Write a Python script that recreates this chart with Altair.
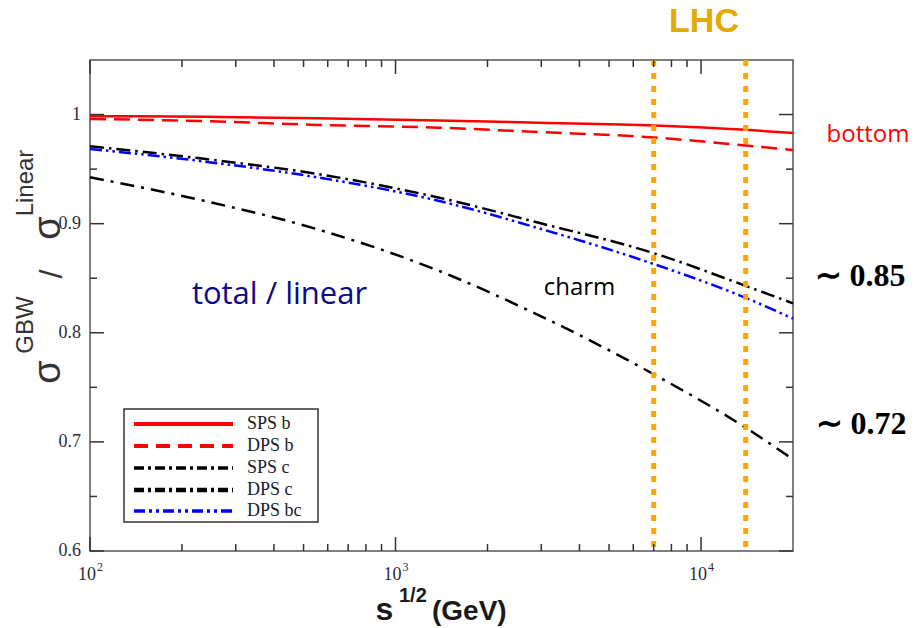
import altair as alt
import pandas as pd

# ---------------- data ----------------
energy = [100, 236, 553, 1380, 2925, 7000, 14000, 20000]
sps_b = [0.9985, 0.998, 0.9965, 0.9945, 0.9925, 0.990, 0.986, 0.983]
dps_b = [0.996, 0.994, 0.9905, 0.988, 0.984, 0.979, 0.9716, 0.9676]
sps_c = [0.971, 0.9594, 0.9456, 0.924, 0.901, 0.873, 0.843, 0.827]
dps_c = [0.9425, 0.921, 0.895, 0.857, 0.8165, 0.762, 0.713, 0.684]
dps_bc = [0.9685, 0.957, 0.9425, 0.921, 0.896, 0.863, 0.832, 0.813]

series_names = ["SPS b", "DPS b", "SPS c", "DPS c", "DPS bc"]
series_vals = [sps_b, dps_b, sps_c, dps_c, dps_bc]

lhc_energies = [7000, 14000]

y_major = [0.6, 0.7, 0.8, 0.9, 1.0]
y_major_labels = ["0.6", "0.7", "0.8", "0.9", "1"]
y_minor = [0.65, 0.75, 0.85, 0.95]
x_major = [100, 1000, 10000]
x_major_exp = ["2", "3", "4"]
x_minor = [200, 300, 400, 500, 600, 700, 800, 900,
           2000, 3000, 4000, 5000, 6000, 7000, 8000, 9000]

# ---------------- styles ----------------
styles = {
    "SPS b": dict(color="#FF0000", strokeWidth=2.5),
    "DPS b": dict(color="#FF0000", strokeWidth=2.5, strokeDash=[16, 8]),
    "SPS c": dict(color="#000000", strokeWidth=2.5, strokeDash=[14, 5, 2.5, 5]),
    "DPS c": dict(color="#000000", strokeWidth=2.5, strokeDash=[14, 7, 3, 7]),
    "DPS bc": dict(color="#0000FF", strokeWidth=2.5, strokeDash=[12, 4, 2.5, 4, 2.5, 4]),
}
legend_styles = {
    "SPS b": dict(color="#FF0000", strokeWidth=4),
    "DPS b": dict(color="#FF0000", strokeWidth=4, strokeDash=[14, 8]),
    "SPS c": dict(color="#000000", strokeWidth=3.5, strokeDash=[10, 4, 3, 4]),
    "DPS c": dict(color="#000000", strokeWidth=4.5, strokeDash=[10, 4, 3, 4]),
    "DPS bc": dict(color="#0000FF", strokeWidth=3.5, strokeDash=[11, 4, 3, 4, 3, 4]),
}

W, H = 703, 491
rows = []
for name, vals in zip(series_names, series_vals):
    for e, v in zip(energy, vals):
        rows.append({"series": name, "E": e, "R": v})
df = pd.DataFrame(rows)

xs = alt.Scale(type="log", domain=[100, 20000], nice=False)
ys = alt.Scale(domain=[0.6, 1.05], zero=False, nice=False)

one = pd.DataFrame({"a": [0]})


def X(field="E"):
    return alt.X(f"{field}:Q", scale=xs, axis=None)


def Y(field="R"):
    return alt.Y(f"{field}:Q", scale=ys, axis=None)


layers = []

# curves
for name in series_names:
    layers.append(
        alt.Chart(df)
        .transform_filter(alt.datum.series == name)
        .mark_line(interpolate="monotone", **styles[name])
        .encode(x=X(), y=Y())
    )

# LHC lines
lhc_df = pd.DataFrame({"E": lhc_energies})
layers.append(
    alt.Chart(lhc_df)
    .mark_rule(color="#FFA500", strokeWidth=5, strokeDash=[6, 7])
    .encode(x=X(), y=alt.value(0), y2=alt.value(H))
)

tick_col = "#333333"
# y ticks (left and right)
for vals, ln in ((y_major, 14), (y_minor, 7)):
    tdf = pd.DataFrame({"R": vals})
    layers.append(alt.Chart(tdf).mark_rule(color=tick_col, strokeWidth=1.5)
                  .encode(y=Y(), x=alt.value(0), x2=alt.value(ln)))
    layers.append(alt.Chart(tdf).mark_rule(color=tick_col, strokeWidth=1.5)
                  .encode(y=Y(), x=alt.value(W - ln), x2=alt.value(W)))
# x ticks (bottom and top)
for vals, ln in ((x_major, 14), (x_minor, 7)):
    tdf = pd.DataFrame({"E": vals})
    layers.append(alt.Chart(tdf).mark_rule(color=tick_col, strokeWidth=1.5)
                  .encode(x=X(), y=alt.value(H - ln), y2=alt.value(H)))
    layers.append(alt.Chart(tdf).mark_rule(color=tick_col, strokeWidth=1.5)
                  .encode(x=X(), y=alt.value(0), y2=alt.value(ln)))

# tick labels
lab_col = "#2b2b3b"
ylab_df = pd.DataFrame({"R": y_major, "t": y_major_labels})
layers.append(
    alt.Chart(ylab_df)
    .transform_calculate(off="datum.R < 0.65 ? -5 : 0")
    .mark_text(align="right", baseline="middle", font="Liberation Serif",
               fontSize=18, color=lab_col)
    .encode(y=Y(), yOffset=alt.YOffset("off:Q", scale=None),
            x=alt.value(-9), text="t:N")
)
xlab_df = pd.DataFrame({"E": x_major, "b": ["10"] * 3, "p": x_major_exp})
layers.append(
    alt.Chart(xlab_df)
    .mark_text(align="center", baseline="alphabetic", font="Liberation Serif",
               fontSize=18, color=lab_col, dx=-3)
    .encode(x=X(), y=alt.value(520), text="b:N")
)
layers.append(
    alt.Chart(xlab_df)
    .mark_text(align="left", baseline="alphabetic", font="Liberation Serif",
               fontSize=12, color=lab_col, dx=7)
    .encode(x=X(), y=alt.value(511), text="p:N")
)


def txt(s, x, y, size, color, font, weight="normal", angle=0,
        align="center", baseline="middle"):
    return (alt.Chart(one)
            .mark_text(text=s, fontSize=size, color=color, font=font,
                       fontWeight=weight, angle=angle, align=align,
                       baseline=baseline)
            .encode(x=alt.value(x), y=alt.value(y)))


# legend box
layers.append(
    alt.Chart(one).mark_rect(fill="white", stroke="#333333", strokeWidth=1.5)
    .encode(x=alt.value(34), x2=alt.value(228), y=alt.value(349), y2=alt.value(462))
)
leg_y = [364, 386, 408, 430, 451]
for name, ly in zip(series_names, leg_y):
    layers.append(
        alt.Chart(one).mark_rule(**legend_styles[name])
        .encode(x=alt.value(44), x2=alt.value(143), y=alt.value(ly))
    )
    layers.append(txt(name, 157, ly, 18, "#1a1a2a", "Liberation Serif", align="left"))

# axis titles
ycol = "#333333"
sans = "Liberation Sans"
layers.append(txt("σ", -41, 312, 38, ycol, sans, angle=270))
layers.append(txt("GBW", -64, 265, 24, ycol, sans, angle=270))
layers.append(txt("/", -38, 214, 32, ycol, sans, angle=270))
layers.append(txt("σ", -41, 168, 38, ycol, sans, angle=270))
layers.append(txt("Linear", -64, 123, 24, ycol, sans, angle=270))

xcol = "#1a1a1a"
layers.append(txt("s", 294.5, 560, 32, xcol, sans, weight="bold", baseline="alphabetic"))
layers.append(txt("1/2", 309, 542, 20, xcol, sans, weight="bold", align="left", baseline="alphabetic"))
layers.append(txt("(GeV)", 342, 560, 28, xcol, sans, weight="bold", align="left", baseline="alphabetic"))

# annotations
layers.append(txt("LHC", 614, -38, 34, "#E3AA00", sans, weight="bold"))
layers.append(txt("bottom", 778, 75, 24, "#FF0000", "Open Sans"))
layers.append(txt("total / linear", 189.5, 235, 31, "#0A0A8C", "Open Sans"))
layers.append(txt("charm", 489.5, 228, 24, "#000000", "Open Sans"))
layers.append(txt("∼ 0.85", 770, 216, 32, "#000000", "Liberation Serif", weight="bold"))
layers.append(txt("∼ 0.72", 771, 364, 32, "#000000", "Liberation Serif", weight="bold"))

chart = (
    alt.layer(*layers)
    .properties(
        width=W, height=H,
        autosize=alt.AutoSizeParams(type="none"),
        padding={"left": 90, "top": 60, "right": 124, "bottom": 77},
        background="white",
    )
    .configure_view(stroke="#555555", strokeWidth=1.5)
)

chart.save("out.html", embed_options={"renderer": "svg", "actions": False})
